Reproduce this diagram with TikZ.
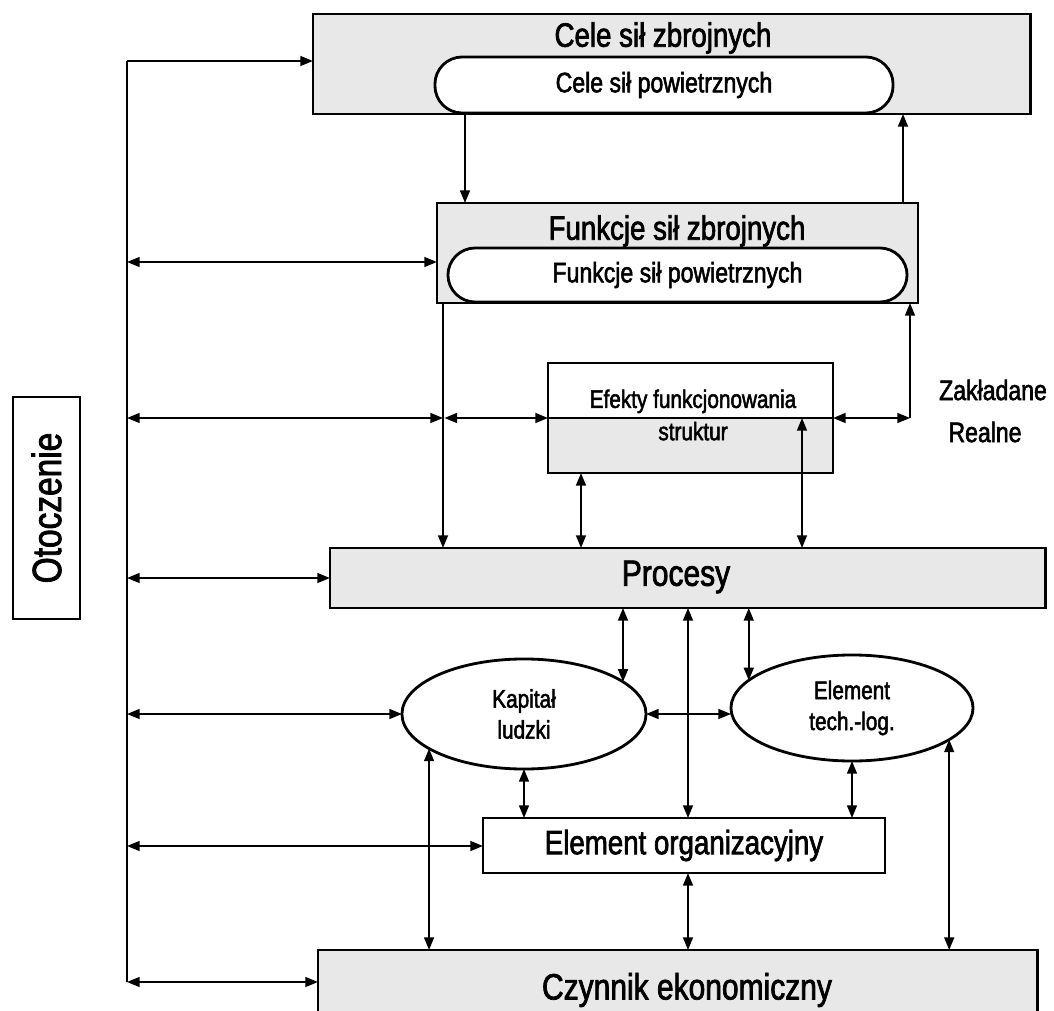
\documentclass[tikz,border=0pt]{standalone}
\usepackage{fontspec}
\setmainfont{Liberation Sans}[FakeStretch=0.82,FakeBold=2]
\usetikzlibrary{arrows.meta,shapes.geometric}
\begin{document}
\begin{tikzpicture}[x=0.025cm,y=-0.025cm,
  conn/.style={line width=1.4pt},
  one/.style={conn,-{Triangle[length=9pt,width=7pt]}},
  two/.style={conn,{Triangle[length=9pt,width=7pt]}-{Triangle[length=9pt,width=7pt]}},
  box/.style={draw,rectangle,line width=2pt,inner sep=0pt,outer sep=0pt},
  shade/.style={fill=black!9},
  pill/.style={draw,rectangle,line width=2pt,fill=white,rounded corners=0.68cm,inner sep=0pt,outer sep=0pt},
  oval/.style={draw,ellipse,line width=2pt,fill=white,inner sep=0pt,outer sep=0pt,align=center,font=\fontsize{18}{22}\selectfont},
  big/.style={font=\fontsize{24}{26}\selectfont},
  mid/.style={font=\fontsize{20}{22}\selectfont},
  small/.style={font=\fontsize{18}{23}\selectfont},
]
\clip (0,0) rectangle (1054,1011);

% goals
\node[box,shade,minimum width=17.925cm,minimum height=2.5cm] (cele) at (671.5,64) {};
\node[pill,minimum width=11.45cm,minimum height=1.4cm,mid] (celeP) at (664,85) {Cele sił powietrznych};
\node[big] (celeT) at (663,38) {Cele sił zbrojnych};

% functions
\node[box,shade,minimum width=12.025cm,minimum height=2.5cm] (funk) at (677.5,253) {};
\node[pill,minimum width=11.475cm,minimum height=1.35cm,mid] (funkP) at (677.5,275) {Funkcje sił powietrznych};
\node[big] (funkT) at (677,231) {Funkcje sił zbrojnych};

% effects: planned (upper half) and real (lower half)
\node[box,fill=white,minimum width=7.125cm,minimum height=2.75cm,
  path picture={\fill[black!9] (path picture bounding box.west) rectangle (path picture bounding box.south east);}]
  (efekty) at (690.5,418) {};
\node[small,align=center] (efT) at (693,415) {Efekty funkcjonowania\\struktur};

% processes
\node[box,shade,minimum width=17.875cm,minimum height=1.5cm] (procesy) at (687.5,578) {};
\node[font=\fontsize{26}{28}\selectfont] (procT) at (676,577) {Procesy};

% resources
\node[oval,minimum width=6.1cm,minimum height=2.75cm] (kap) at (524,714) {Kapitał\\ludzki};
\node[oval,minimum width=6.05cm,minimum height=2.65cm] (tech) at (852,708) {Element\\tech.-log.};
\node[box,fill=white,minimum width=10.05cm,minimum height=1.375cm,big] (org) at (684,845.5) {Element organizacyjny};
\node[box,shade,minimum width=17.975cm,minimum height=2.25cm] (czyn) at (677.5,995) {};
\node[font=\fontsize{26}{28}\selectfont] (czynT) at (687,990) {Czynnik ekonomiczny};

% environment
\node[box,line width=1.5pt,rotate=90,minimum width=5.55cm,minimum height=1.675cm,font=\fontsize{29}{30}\selectfont] (oto) at (46.5,508) {Otoczenie};

% side labels
\node[mid] (zak) at (993,390) {Zakładane};
\node[mid] (real) at (985,432) {Realne};

% environment bus on the left
\coordinate (b1) at (127,61);
\coordinate (b2) at (127,262);
\coordinate (b3) at (127,418);
\coordinate (b4) at (127,578);
\coordinate (b5) at (127,714);
\coordinate (b6) at (127,846);
\coordinate (b7) at (127,982);
\draw[conn] (b1) -- (b7);
\draw[one] (b1) -- (b1 -| cele.west);
\draw[two] (b2) -- (b2 -| funk.west);
\draw[two] (b4) -- (procesy.west);
\draw[two] (b5) -- (kap.west);
\draw[two] (b6) -- (b6 -| org.west);
\draw[two] (b7) -- (b7 -| czyn.west);

% goals <-> functions
\coordinate (cA) at (465,114);
\coordinate (cB) at (903,0);
\draw[one] (cA) -- (cA |- funk.north);
\draw[one] (cB |- funk.north) -- (cB |- cele.south);

% functions -> processes, with the effects branch
\coordinate (vA) at (443,303);
\draw[one] (vA) -- (vA |- procesy.north);
\draw[two] (b3) -- (b3 -| vA);
\draw[two,shorten <=1pt] (b3 -| vA) -- (efekty.west);
\draw[conn] (efekty.west) -- (efekty.east);

% planned effects back to functions
\coordinate (zR) at (910,418);
\draw[two] (efekty.east) -- (zR);
\draw[one] (zR) -- (zR |- funk.south);

% effects <-> processes
\coordinate (e1) at (581,0);
\coordinate (e2) at (802,0);
\draw[two] (e1 |- efekty.south) -- (e1 |- procesy.north);
\draw[two] (e2 |- procesy.north) -- (e2 |- efekty.center);

% processes <-> resources
\coordinate (pc) at (688,0);
\draw[two] (kap.18 |- procesy.south) -- (kap.18);
\draw[two] (pc |- procesy.south) -- (pc |- org.north);
\draw[two] (tech.165 |- procesy.south) -- (tech.165);
\draw[two] (kap.east) -- (kap.east -| tech.west);

% resources <-> organisation and economy
\draw[two] (kap.south) -- (kap.south |- org.north);
\draw[two] (tech.south) -- (tech.south |- org.north);
\draw[two] (kap.200) -- (kap.200 |- czyn.north);
\draw[two] (tech.342) -- (tech.342 |- czyn.north);
\draw[two] (org.south -| pc) -- (pc |- czyn.north);
\end{tikzpicture}
\end{document}
